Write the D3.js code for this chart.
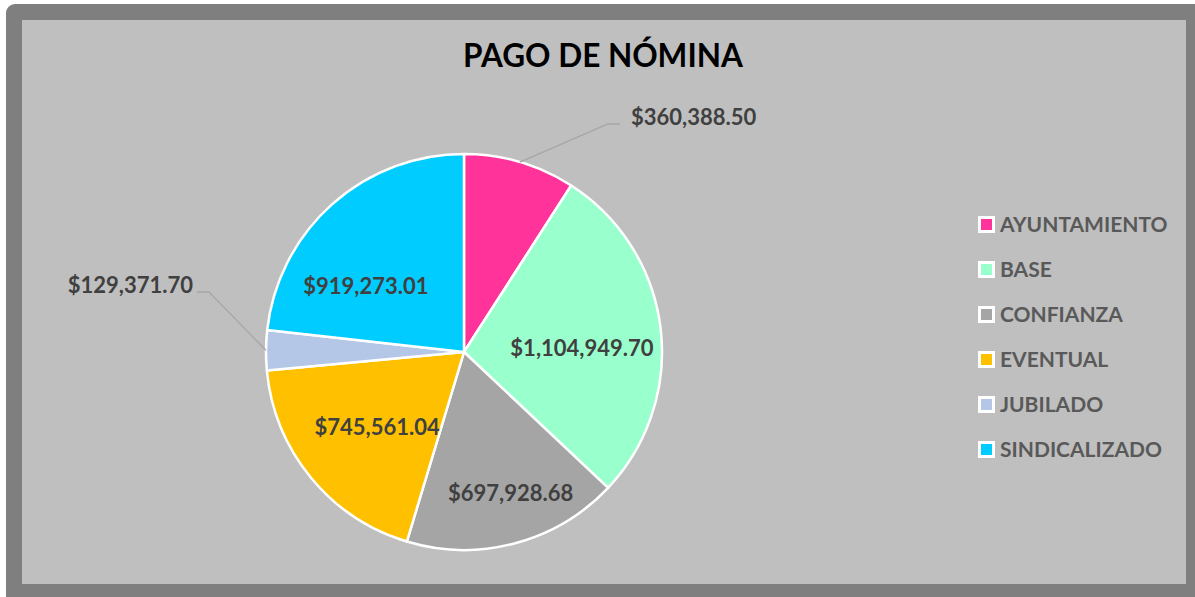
<!DOCTYPE html>
<html lang="es">
<head>
<meta charset="UTF-8">
<script src="https://d3js.org/d3.v7.min.js"></script>
<style>
  body { margin: 0; background: #ffffff; }
  svg { display: block; }
  text { font-family: Lato, "Open Sans", sans-serif; font-weight: bold; }
</style>
</head>
<body>
<div id="chart"></div>
<script>
// data
const categories = ["AYUNTAMIENTO", "BASE", "CONFIANZA", "EVENTUAL", "JUBILADO", "SINDICALIZADO"];
const amounts = [360388.50, 1104949.70, 697928.68, 745561.04, 129371.70, 919273.01];
const sliceColors = ["#ff3399", "#99ffcc", "#a5a5a5", "#ffc000", "#b4c7e7", "#00ccff"];
const chartTitle = "PAGO DE NÓMINA";

const width = 1195, height = 597;
const cx = 464, cy = 352, radius = 198;

// where labels go (inside ones nudged from centroid, outside ones with leader lines)
const labelNudge = [null, [0, 10], [16, 26], [5, 0], null, [-19, 23]];
const outsideLabel = {
  0: { elbow: [608, 124], end: [620, 124], text: [631, 117], anchor: "start" },
  4: { elbow: [209, 292], end: [197, 292], text: [193, 285], anchor: "end" }
};

const fmt = d3.format("$,.2f");

const svg = d3.select("#chart").append("svg")
    .attr("width", width)
    .attr("height", height);

// frame
svg.append("rect")
    .attr("x", 6).attr("y", 4)
    .attr("width", width + 20).attr("height", height + 20)
    .attr("rx", 9)
    .attr("fill", "#7f7f7f");
svg.append("rect")
    .attr("x", 22).attr("y", 20)
    .attr("width", 1164).attr("height", 564)
    .attr("fill", "#bfbfbf");

svg.append("text")
    .attr("x", 603).attr("y", 67)
    .attr("text-anchor", "middle")
    .attr("font-size", 31.5)
    .attr("fill", "#000000")
    .text(chartTitle);

const data = categories.map((c, i) => ({ cat: c, value: amounts[i], i: i }));

const pie = d3.pie().sort(null).value(d => d.value);
const arcs = pie(data);

const arc = d3.arc().innerRadius(0).outerRadius(radius);
const labelArc = d3.arc().innerRadius(radius * 0.6).outerRadius(radius * 0.6);

const g = svg.append("g").attr("transform", `translate(${cx},${cy})`);

g.selectAll("path.slice")
  .data(arcs)
  .join("path")
    .attr("class", "slice")
    .attr("d", arc)
    .attr("fill", d => sliceColors[d.data.i])
    .attr("stroke", "#ffffff")
    .attr("stroke-width", 2.5)
    .attr("stroke-linejoin", "round");

// inside labels
g.selectAll("text.inlabel")
  .data(arcs.filter(d => labelNudge[d.data.i]))
  .join("text")
    .attr("class", "inlabel")
    .attr("transform", d => {
      const [x, y] = labelArc.centroid(d);
      const n = labelNudge[d.data.i];
      return `translate(${x + n[0]},${y + n[1]})`;
    })
    .attr("text-anchor", "middle")
    .attr("dy", "0.36em")
    .attr("font-size", 22)
    .attr("fill", "#404040")
    .text(d => fmt(d.data.value));

// outside labels with leader lines
arcs.filter(d => outsideLabel[d.data.i]).forEach(d => {
  const o = outsideLabel[d.data.i];
  const mid = (d.startAngle + d.endAngle) / 2;
  const sx = cx + radius * Math.sin(mid), sy = cy - radius * Math.cos(mid);
  svg.append("polyline")
      .attr("points", [[sx, sy], o.elbow, o.end].map(p => p.join(",")).join(" "))
      .attr("fill", "none")
      .attr("stroke", "#a6a6a6")
      .attr("stroke-width", 1.3);
  svg.append("text")
      .attr("x", o.text[0]).attr("y", o.text[1])
      .attr("text-anchor", o.anchor)
      .attr("dy", "0.36em")
      .attr("font-size", 22)
      .attr("fill", "#404040")
      .text(fmt(d.data.value));
});

// legend
const legend = svg.append("g").attr("transform", "translate(978,224)");
const item = legend.selectAll("g")
  .data(data)
  .join("g")
    .attr("transform", (d, i) => `translate(0,${i * 45})`);
item.append("rect")
    .attr("x", 0).attr("y", -8)
    .attr("width", 17).attr("height", 17)
    .attr("fill", "#ffffff");
item.append("rect")
    .attr("x", 3).attr("y", -5)
    .attr("width", 11).attr("height", 11)
    .attr("fill", d => sliceColors[d.i]);
item.append("text")
    .attr("x", 22).attr("y", 0)
    .attr("dy", "0.36em")
    .attr("font-size", 21)
    .attr("fill", "#595959")
    .text(d => d.cat);
</script>
</body>
</html>
